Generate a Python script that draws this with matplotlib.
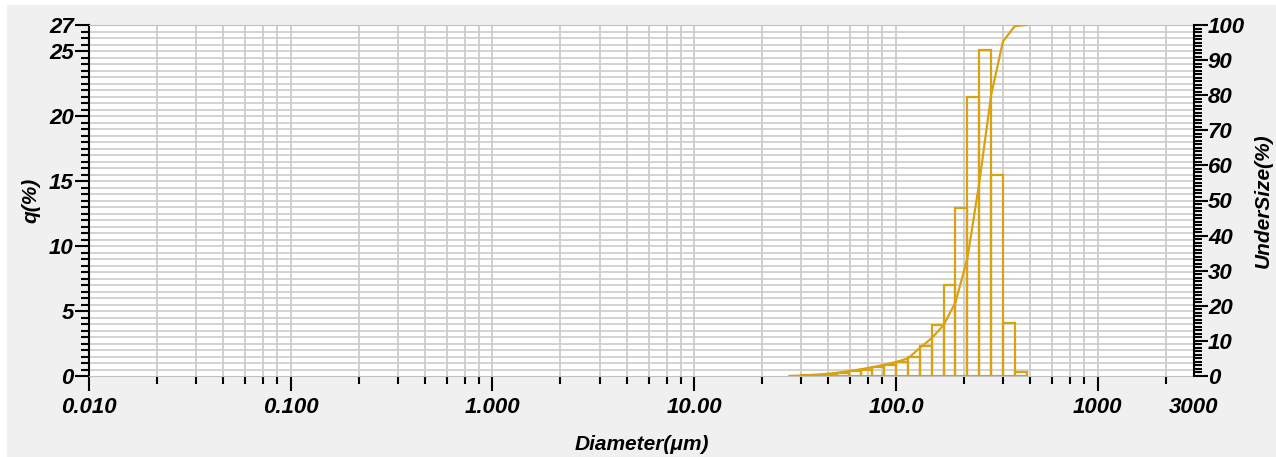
import numpy as np
import matplotlib
matplotlib.use('Agg')
import matplotlib.pyplot as plt
from matplotlib.patches import Rectangle
from matplotlib.ticker import FixedLocator, NullFormatter

# bin edges (um)
edges = [29.6, 33.9, 38.8, 44.4, 50.9, 58.3, 66.7, 76.4, 87.5, 100.2, 114.7,
         131.3, 150.4, 172.2, 197.2, 225.8, 258.6, 296.1, 339.0, 388.2, 444.5]
# frequency q(%) per bin
q = [0.02, 0.05, 0.1, 0.15, 0.25, 0.4, 0.5, 0.7, 0.85, 1.05, 1.5,
     2.3, 3.9, 7.0, 12.9, 21.5, 25.1, 15.5, 4.1, 0.3]
# cumulative undersize (%) at each edge
undersize = [0.0, 0.12, 0.3, 0.55, 0.9, 1.4, 1.9, 2.5, 3.2, 4.0, 5.0,
             8.0, 10.8, 14.5, 21.0, 33.5, 55.0, 80.0, 95.3, 99.7, 100.0]

xtick_vals = [0.01, 0.1, 1, 10, 100, 1000, 3000]
xtick_labels = ['0.010', '0.100', '1.000', '10.00', '100.0', '1000', '3000']
ytick_left = [0, 5, 10, 15, 20, 25, 27]
# minor tick multipliers inside each decade, as drawn by the instrument software
minor_mult = [2.17, 3.40, 4.62, 5.94, 7.29, 8.57]

gold = '#D9A20F'
W, H = 1276, 457
font = dict(family='Liberation Sans', weight='bold', style='italic')

fig = plt.figure(figsize=(W / 100, H / 100), dpi=100, facecolor='white')
fig.patches.append(Rectangle((7 / W, 0), 1 - 7 / W, 1 - 5 / H, transform=fig.transFigure,
                             facecolor='#f0f0f0', edgecolor='none', zorder=-10))

ax = fig.add_axes([89 / W, 1 - 376 / H, (1194 - 89) / W, (376 - 25) / H])
ax.set_facecolor('white')
ax.set_xscale('log')
ax.set_xlim(0.01, 3000)
ax.set_ylim(0, 27)

# grid
minor_x = [m * 10.0 ** e for e in range(-2, 4) for m in minor_mult if m * 10.0 ** e < 3000]
for xv in minor_x + xtick_vals[:-1]:
    ax.axvline(xv, color='#c8c8c8', lw=1.2, zorder=0)
for yv in np.arange(0.5, 27.01, 0.5):
    ax.axhline(yv, color='#cccccc', lw=1.2, zorder=0)

e = np.array(edges)
ax.bar(e[:-1], q, width=np.diff(e), align='edge', fill=False,
       edgecolor=gold, linewidth=1.6, zorder=3)

ax.set_xticks(xtick_vals)
ax.set_xticklabels(xtick_labels, fontsize=16, **font)
ax.xaxis.set_minor_locator(FixedLocator(minor_x))
ax.xaxis.set_minor_formatter(NullFormatter())
ax.tick_params(axis='x', which='major', length=11, width=1.5, pad=4, direction='out')
ax.tick_params(axis='x', which='minor', length=6, width=1.5, direction='out')
ax.xaxis.get_major_ticks()[-1].tick1line.set_visible(False)

ax.set_yticks(ytick_left)
ax.set_yticklabels([str(v) for v in ytick_left], fontsize=16, **font)
ax.yaxis.set_minor_locator(FixedLocator(np.arange(0, 27.01, 0.5)))
ax.tick_params(axis='y', which='major', length=10, width=1.5, pad=1)
ax.tick_params(axis='y', which='minor', length=6, width=1.5)

for s in ['top', 'bottom']:
    ax.spines[s].set_color('#c0c0c0')
ax.spines['left'].set_linewidth(1.5)
ax.spines['right'].set_visible(False)

ax.set_ylabel('q(%)', fontsize=15, labelpad=6, **font)
ax.set_xlabel('Diameter(\u03bcm)', fontsize=15, labelpad=12, **font)

ax2 = ax.twinx()
ax2.set_ylim(0, 100)
ax2.plot(edges, undersize, color=gold, lw=1.6, zorder=4)
ax2.set_yticks(range(0, 101, 10))
ax2.set_yticklabels([str(v) for v in range(0, 101, 10)], fontsize=16, **font)
ax2.yaxis.set_minor_locator(FixedLocator(range(0, 101)))
ax2.tick_params(axis='y', which='major', length=10, width=1.5, pad=0)
ax2.tick_params(axis='y', which='minor', length=6, width=1.5)
ax2.spines['right'].set_linewidth(1.5)
for s in ['top', 'bottom', 'left']:
    ax2.spines[s].set_visible(False)
ax2.set_ylabel('UnderSize(%)', fontsize=15, labelpad=6, **font)

fig.savefig('out.png', dpi=100, facecolor=fig.get_facecolor())
